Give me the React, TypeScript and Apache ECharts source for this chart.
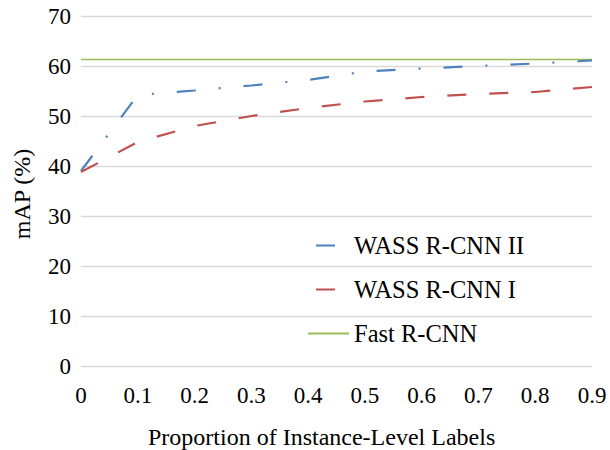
import React, { useEffect, useRef } from "react";
import * as echarts from "echarts";

const xValues = [0, 0.1, 0.2, 0.3, 0.4, 0.5, 0.6, 0.7, 0.8, 0.9];
const wassII = [39.0, 54.2, 55.1, 56.1, 57.2, 58.9, 59.5, 60.0, 60.5, 61.1];
const wassI = [38.8, 44.8, 48.0, 50.0, 51.6, 52.9, 53.8, 54.4, 54.8, 55.8];
const fastRcnn = [61.3, 61.3, 61.3, 61.3, 61.3, 61.3, 61.3, 61.3, 61.3, 61.3];
const seriesNames = ["WASS R-CNN II", "WASS R-CNN I", "Fast R-CNN"];
const xTitle = "Proportion of Instance-Level Labels";
const yTitle = "mAP (%)";

const FONT = "'Liberation Serif', 'Times New Roman', serif";

export default function App() {
  const ref = useRef<HTMLDivElement>(null);
  useEffect(() => {
    if (!ref.current) return;
    const chart = echarts.init(ref.current, null, { renderer: "svg" });
    const pair = (ys: number[]) => xValues.map((x, i) => [x, ys[i]]);
    chart.setOption({
      animation: false,
      backgroundColor: "#fff",
      textStyle: { fontFamily: FONT, color: "#000" },
      grid: { left: 81, right: 18, top: 16, bottom: 84, containLabel: false },
      xAxis: {
        type: "value",
        min: 0,
        max: 0.9,
        interval: 0.1,
        axisLine: { show: false },
        axisTick: { show: false },
        splitLine: { show: false },
        axisLabel: {
          fontFamily: FONT,
          fontSize: 23,
          color: "#000",
          margin: 18,
          formatter: (v: number) => (v === 0 ? "0" : v.toFixed(1)),
        },
      },
      yAxis: {
        type: "value",
        min: 0,
        max: 70,
        interval: 10,
        axisLine: { show: false },
        axisTick: { show: false },
        splitLine: { show: true, lineStyle: { color: "#d9d9d9", width: 1.3 } },
        axisLabel: { fontFamily: FONT, fontSize: 23, color: "#000", margin: 10 },
      },
      legend: {
        orient: "vertical",
        left: 307,
        top: 233,
        padding: 0,
        itemWidth: 41,
        itemHeight: 14,
        itemGap: 19,
        itemStyle: { opacity: 0 },
        textStyle: { fontFamily: FONT, fontSize: 24.5, color: "#000", lineHeight: 24 },
        data: [
          { name: seriesNames[0], lineStyle: { type: [0, 8, 19, 100] } },
          { name: seriesNames[1], lineStyle: { type: [0, 8, 19, 100] } },
          { name: seriesNames[2] },
        ],
      },
      graphic: [
        {
          type: "text",
          left: 148,
          top: 425,
          style: { text: xTitle, fontFamily: FONT, fontSize: 24, fill: "#000" },
        },
        {
          type: "text",
          x: 22,
          y: 194,
          rotation: Math.PI / 2,
          style: {
            text: yTitle,
            fontFamily: FONT,
            fontSize: 24,
            fill: "#000",
            align: "center",
            verticalAlign: "middle",
          },
        },
      ],
      series: [
        {
          name: seriesNames[0],
          type: "line",
          data: pair(wassII),
          symbol: "none",
          color: "#4f81bd",
          lineStyle: { color: "#4f81bd", width: 2.2, type: [19, 23, 2, 23], cap: "butt" },
          z: 3,
        },
        {
          name: seriesNames[1],
          type: "line",
          data: pair(wassI),
          symbol: "none",
          color: "#c0504d",
          lineStyle: { color: "#c0504d", width: 2.2, type: [19, 23], cap: "butt" },
          z: 3,
        },
        {
          name: seriesNames[2],
          type: "line",
          data: pair(fastRcnn),
          symbol: "none",
          color: "#9bbb59",
          lineStyle: { color: "#9bbb59", width: 1.6 },
          z: 2,
        },
      ],
    });
    return () => chart.dispose();
  }, []);
  return (
    <div
      ref={ref}
      style={{ position: "fixed", left: 0, top: 0, width: 610, height: 450 }}
    />
  );
}
